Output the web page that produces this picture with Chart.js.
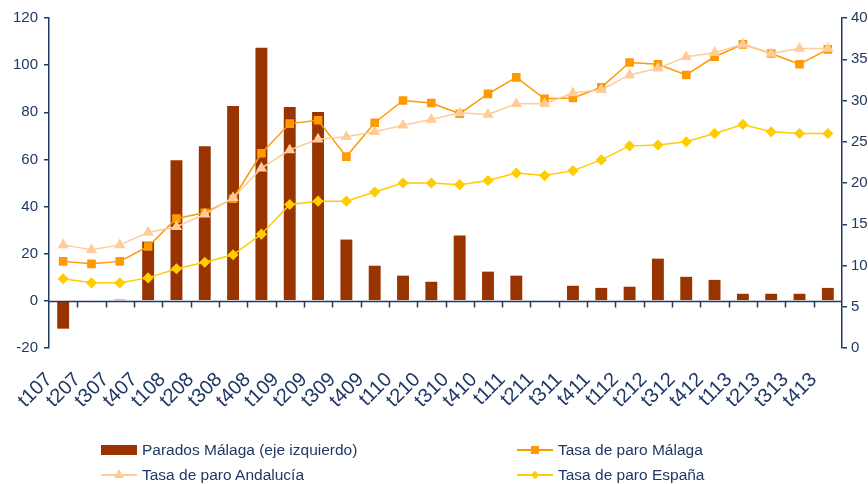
<!DOCTYPE html>
<html>
<head>
<meta charset="utf-8">
<script src="https://cdn.jsdelivr.net/npm/chart.js@4.4.1/dist/chart.umd.min.js"></script>
<style>
  body { margin: 0; background: #fff; }
  #wrap { position: relative; width: 868px; height: 484px; }
  #legend { position: absolute; left: 0; top: 0; width: 868px; height: 484px; pointer-events: none;
    font-family: "Liberation Sans", Arial, sans-serif; font-size: 15.5px; color: #1F3864; }
  .item { position: absolute; display: flex; align-items: center; height: 20px; }
  .mark { position: relative; width: 36px; height: 20px; margin-right: 5px; }
  .box { position: absolute; left: 0; top: 5px; width: 36px; height: 10px; background: #993300; }
  .ln { position: absolute; left: 0; top: 9px; width: 36px; height: 2px; }
  .sq { position: absolute; left: 14px; top: 6px; width: 8px; height: 8px; }
  .tri { position: absolute; left: 13px; top: 4px; width: 0; height: 0;
    border-left: 5px solid transparent; border-right: 5px solid transparent; border-bottom: 9px solid #FFCC99; }
  .dia { position: absolute; left: 15px; top: 7px; width: 6px; height: 6px; transform: rotate(45deg); }
</style>
</head>
<body>
<div id="wrap">
  <canvas id="chart" width="868" height="484"></canvas>
  <div id="legend">
    <div class="item" style="left:101px; top:440px;">
      <div class="mark"><div class="box"></div></div>Parados Málaga (eje izquierdo)
    </div>
    <div class="item" style="left:517px; top:440px;">
      <div class="mark"><div class="ln" style="background:#FF9900"></div><div class="sq" style="background:#FF9900"></div></div>Tasa de paro Málaga
    </div>
    <div class="item" style="left:101px; top:465px;">
      <div class="mark"><div class="ln" style="background:#FFCC99"></div><div class="tri"></div></div>Tasa de paro Andalucía
    </div>
    <div class="item" style="left:517px; top:465px;">
      <div class="mark"><div class="ln" style="background:#FFCC00"></div><div class="dia" style="background:#FFCC00"></div></div>Tasa de paro España
    </div>
  </div>
</div>
<script>
const labels = ["t107", "t207", "t307", "t407", "t108", "t208", "t308", "t408", "t109", "t209",
  "t309", "t409", "t110", "t210", "t310", "t410", "t111", "t211", "t311", "t411",
  "t112", "t212", "t312", "t412", "t113", "t213", "t313", "t413"];

// parados Málaga, variación (eje izquierdo)
const parados = [-11.8, -0.5, 0.5, 25.1, 59.7, 65.6, 82.7, 107.4, 82.2, 80.1,
  26.0, 14.9, 10.7, 8.1, 27.7, 12.4, 10.7, 0, 6.4, 5.5,
  6.0, 17.9, 10.2, 8.9, 3.0, 3.0, 3.0, 5.5];

// tasas de paro (eje derecho)
const tasaMalaga = [10.5, 10.2, 10.5, 12.3, 15.7, 16.4, 18.1, 23.6, 27.2, 27.6,
  23.2, 27.3, 30.0, 29.7, 28.4, 30.8, 32.8, 30.2, 30.3, 31.6,
  34.6, 34.4, 33.1, 35.3, 36.8, 35.7, 34.4, 36.2];
const tasaAndalucia = [12.5, 11.9, 12.5, 14.0, 14.7, 16.2, 18.2, 21.8, 24.0, 25.3,
  25.6, 26.2, 27.0, 27.7, 28.5, 28.3, 29.6, 29.6, 30.9, 31.3,
  33.1, 33.9, 35.3, 35.8, 36.8, 35.7, 36.3, 36.3];
const tasaEspana = [8.4, 7.9, 7.9, 8.5, 9.6, 10.4, 11.3, 13.8, 17.4, 17.8,
  17.8, 18.9, 20.0, 20.0, 19.8, 20.3, 21.2, 20.9, 21.5, 22.8,
  24.5, 24.6, 25.0, 26.0, 27.1, 26.2, 26.0, 26.0];

const navy = "#1F3864";
const font = "'Liberation Sans', Arial, sans-serif";

// eje horizontal en el cero con marcas entre categorías
const zeroAxis = {
  id: "zeroAxis",
  afterDatasetsDraw(chart) {
    const { ctx, chartArea, scales } = chart;
    const y0 = Math.round(scales.y.getPixelForValue(0)) + 0.5;
    ctx.save();
    ctx.strokeStyle = navy;
    ctx.lineWidth = 1.5;
    ctx.beginPath();
    ctx.moveTo(chartArea.left, y0);
    ctx.lineTo(chartArea.right, y0);
    for (let i = 1; i < labels.length; i++) {
      const x = Math.round(scales.x.getPixelForValue(i - 0.5)) + 0.5;
      ctx.moveTo(x, y0);
      ctx.lineTo(x, y0 + 6);
    }
    ctx.stroke();
    ctx.restore();
  },
};

new Chart(document.getElementById("chart"), {
  data: {
    labels: labels,
    datasets: [
      {
        type: "line",
        label: "Tasa de paro España",
        data: tasaEspana,
        yAxisID: "y2",
        borderColor: "#FFCC00",
        backgroundColor: "#FFCC00",
        borderWidth: 1.5,
        pointStyle: "rectRot",
        pointRadius: 4.5,
        tension: 0,
        order: 1,
      },
      {
        type: "line",
        label: "Tasa de paro Andalucía",
        data: tasaAndalucia,
        yAxisID: "y2",
        borderColor: "#FFCC99",
        backgroundColor: "#FFCC99",
        borderWidth: 1.5,
        pointStyle: "triangle",
        pointRadius: 5,
        tension: 0,
        order: 2,
      },
      {
        type: "line",
        label: "Tasa de paro Málaga",
        data: tasaMalaga,
        yAxisID: "y2",
        borderColor: "#FF9900",
        backgroundColor: "#FF9900",
        borderWidth: 1.5,
        pointStyle: "rect",
        pointRadius: 5,
        tension: 0,
        order: 3,
      },
      {
        type: "bar",
        label: "Parados Málaga (eje izquierdo)",
        data: parados,
        yAxisID: "y",
        backgroundColor: "#993300",
        barPercentage: 0.42,
        categoryPercentage: 1,
        order: 5,
      },
    ],
  },
  options: {
    responsive: false,
    animation: false,
    layout: { padding: { left: 0, right: 0, top: 18, bottom: 66 } },
    plugins: { legend: { display: false }, tooltip: { enabled: false } },
    scales: {
      x: {
        offset: true,
        border: { display: false },
        grid: { display: false },
        ticks: {
          autoSkip: false,
          minRotation: 45,
          maxRotation: 45,
          color: navy,
          font: { family: font, size: 20 },
          padding: 12,
          labelOffset: -14,
        },
        afterFit: (scale) => { scale.height = 70; },
      },
      y: {
        position: "left",
        min: -20,
        max: 120,
        ticks: { stepSize: 20, color: navy, font: { family: font, size: 15 }, padding: 6 },
        border: { color: navy, width: 1.5 },
        grid: { drawOnChartArea: false, tickLength: 5, color: navy, lineWidth: 1.5 },
        afterFit: (scale) => { scale.width = 49; },
      },
      y2: {
        position: "right",
        min: 0,
        max: 40,
        ticks: { stepSize: 5, color: navy, font: { family: font, size: 15 }, padding: 4 },
        border: { color: navy, width: 1.5 },
        grid: { drawOnChartArea: false, tickLength: 5, color: navy, lineWidth: 1.5 },
        afterFit: (scale) => { scale.width = 26; },
      },
    },
  },
  plugins: [zeroAxis],
});
</script>
</body>
</html>
